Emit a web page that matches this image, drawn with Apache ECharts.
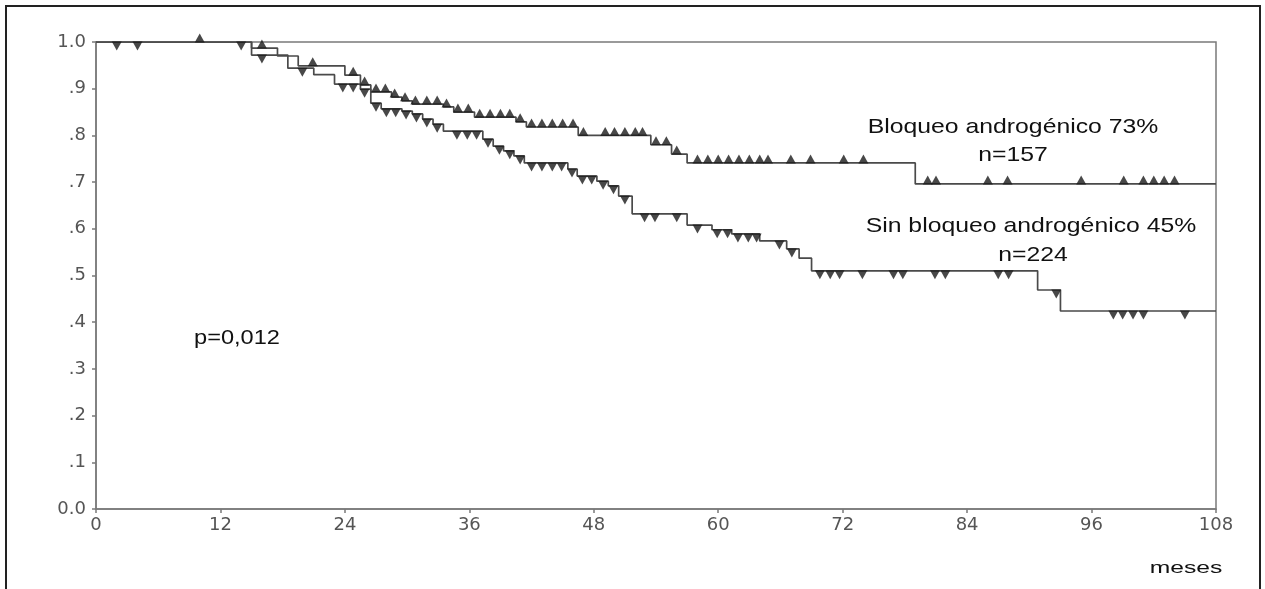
<!DOCTYPE html>
<html><head><meta charset="utf-8">
<script src="https://cdn.jsdelivr.net/npm/echarts@6/dist/echarts.min.js"></script>
<style>html,body{margin:0;padding:0;background:#fff}#c{width:1265px;height:589px}</style>
</head><body><div id="c"></div>
<script>
// x axis ticks (months) and y tick labels
const xTicks = [0, 12, 24, 36, 48, 60, 72, 84, 96, 108];
const yTickLabels = ['0.0', '.1', '.2', '.3', '.4', '.5', '.6', '.7', '.8', '.9', '1.0'];

// Bloqueo androgénico (n=157): step times and survival after each step
const stepTimesA = [0, 15, 17.5, 19.5, 24, 25.5, 26.5, 28.5, 29.5, 30.5, 33.5, 34.5, 36.5, 40.5, 41.5, 46.5, 53.5, 55.5, 57, 79];
const survA      = [1, 0.987, 0.97, 0.949, 0.929, 0.908, 0.893, 0.882, 0.874, 0.867, 0.861, 0.85, 0.839, 0.829, 0.818, 0.80, 0.78, 0.76, 0.741, 0.696];
const censorA = [10, 16, 20.9, 24.8, 25.9, 27, 27.9, 28.8, 29.8, 30.8, 31.9, 32.9, 33.8, 34.9, 35.9, 37, 38, 39, 39.9, 40.9, 42, 43, 44, 45, 46, 47, 49.1, 50, 51, 52, 52.7, 54, 55, 56, 58, 59, 60, 61, 62, 63, 64, 64.8, 67, 68.9, 72.1, 74, 80.2, 81, 86, 87.9, 95, 99.1, 101, 102, 103, 104];

// Sin bloqueo androgénico (n=224)
const stepTimesB = [0, 15, 18.5, 21, 23, 25.5, 26.5, 27.5, 29.5, 30.5, 31.5, 32.5, 33.5, 37.3, 38.3, 39.3, 40.3, 41.3, 45.5, 46.4, 48.3, 49.4, 50.4, 51.7, 57, 59.4, 61.3, 64, 66.6, 67.8, 69, 90.8, 93];
const survB      = [1, 0.972, 0.944, 0.93, 0.91, 0.899, 0.869, 0.857, 0.852, 0.846, 0.835, 0.824, 0.809, 0.792, 0.777, 0.767, 0.756, 0.741, 0.728, 0.713, 0.702, 0.692, 0.67, 0.632, 0.608, 0.598, 0.589, 0.574, 0.557, 0.537, 0.51, 0.469, 0.424];
const censorB = [2, 4, 14, 16, 19.9, 23.8, 24.8, 25.9, 27, 28, 28.9, 29.9, 30.9, 31.9, 32.9, 34.8, 35.8, 36.7, 37.8, 38.9, 39.9, 40.9, 42, 43, 44, 44.9, 45.9, 46.9, 47.8, 48.9, 49.9, 51, 52.9, 53.9, 56, 58, 59.9, 60.9, 61.9, 62.9, 63.7, 65.9, 67.1, 69.8, 70.8, 71.7, 73.9, 76.9, 77.8, 80.9, 81.9, 87, 88, 92.6, 98.1, 99, 100, 101, 105];

const xMax = xTicks[xTicks.length - 1];

function stepData(times, surv) {
  const d = times.map((t, i) => [t, surv[i]]);
  d.push([xMax, surv[surv.length - 1]]);
  return d;
}
function levelAt(times, surv, t) {
  let v = surv[0];
  for (let i = 0; i < times.length; i++) if (times[i] <= t) v = surv[i];
  return v;
}

const chart = echarts.init(document.getElementById('c'), null, {renderer: 'canvas'});
const lineCol = '#4a4a4a';
const markCol = '#1a1a1a';
const axisCol = '#7a7a7a';
const labelFont = {color: '#555', fontSize: 18, fontFamily: 'DejaVu Sans'};

chart.setOption({
  animation: false,
  backgroundColor: '#fff',
  grid: {left: 96, right: 49, top: 42, bottom: 80, show: true, borderColor: axisCol, borderWidth: 1.5},
  xAxis: {
    type: 'value', min: 0, max: xMax, interval: 12,
    axisLine: {show: true, lineStyle: {color: axisCol, width: 1.5}},
    axisTick: {show: true, length: 4, lineStyle: {color: axisCol, width: 1.5}},
    splitLine: {show: false},
    axisLabel: Object.assign({margin: 7}, labelFont)
  },
  yAxis: {
    type: 'value', min: 0, max: 1, interval: 0.1,
    axisLine: {show: true, lineStyle: {color: axisCol, width: 1.5}},
    axisTick: {show: true, length: 4, lineStyle: {color: axisCol, width: 1.5}},
    splitLine: {show: false},
    axisLabel: Object.assign({margin: 10, formatter: v => yTickLabels[Math.round(v * 10)]}, labelFont)
  },
  series: [
    {type: 'line', step: 'end', data: stepData(stepTimesA, survA), showSymbol: false, symbol: 'none',
     lineStyle: {color: lineCol, width: 1.7}, z: 2},
    {type: 'line', step: 'end', data: stepData(stepTimesB, survB), showSymbol: false, symbol: 'none',
     lineStyle: {color: lineCol, width: 1.7}, z: 2},
    {type: 'scatter', data: censorA.map(t => [t, levelAt(stepTimesA, survA, t)]),
     symbol: 'path://M5,0 L10,9 L0,9 Z', symbolSize: [10, 9], symbolOffset: [0, -4],
     itemStyle: {color: markCol}, z: 3, clip: false},
    {type: 'scatter', data: censorB.map(t => [t, levelAt(stepTimesB, survB, t)]),
     symbol: 'path://M0,0 L10,0 L5,9 Z', symbolSize: [10, 9], symbolOffset: [0, 4],
     itemStyle: {color: markCol}, z: 3, clip: false}
  ],
  graphic: [
    {type: 'rect', shape: {x: 6, y: 6, width: 1254, height: 620}, style: {fill: 'none', stroke: '#222', lineWidth: 2}, silent: true},
    {type: 'text', x: 1013, y: 127, scaleX: 1.18, style: {text: 'Bloqueo androgénico 73%', fontSize: 21, fontFamily: 'Liberation Sans', fill: '#111', textAlign: 'center', textVerticalAlign: 'middle'}},
    {type: 'text', x: 1013, y: 155, scaleX: 1.18, style: {text: 'n=157', fontSize: 21, fontFamily: 'Liberation Sans', fill: '#111', textAlign: 'center', textVerticalAlign: 'middle'}},
    {type: 'text', x: 1031, y: 226, scaleX: 1.18, style: {text: 'Sin bloqueo androgénico 45%', fontSize: 21, fontFamily: 'Liberation Sans', fill: '#111', textAlign: 'center', textVerticalAlign: 'middle'}},
    {type: 'text', x: 1033, y: 255, scaleX: 1.18, style: {text: 'n=224', fontSize: 21, fontFamily: 'Liberation Sans', fill: '#111', textAlign: 'center', textVerticalAlign: 'middle'}},
    {type: 'text', x: 237, y: 338, scaleX: 1.18, style: {text: 'p=0,012', fontSize: 20, fontFamily: 'Liberation Sans', fill: '#111', textAlign: 'center', textVerticalAlign: 'middle'}},
    {type: 'text', x: 1186, y: 568, scaleX: 1.45, style: {text: 'meses', fontSize: 17, fontFamily: 'Liberation Sans', fill: '#111', textAlign: 'center', textVerticalAlign: 'middle'}}
  ]
});
</script>
</body></html>
